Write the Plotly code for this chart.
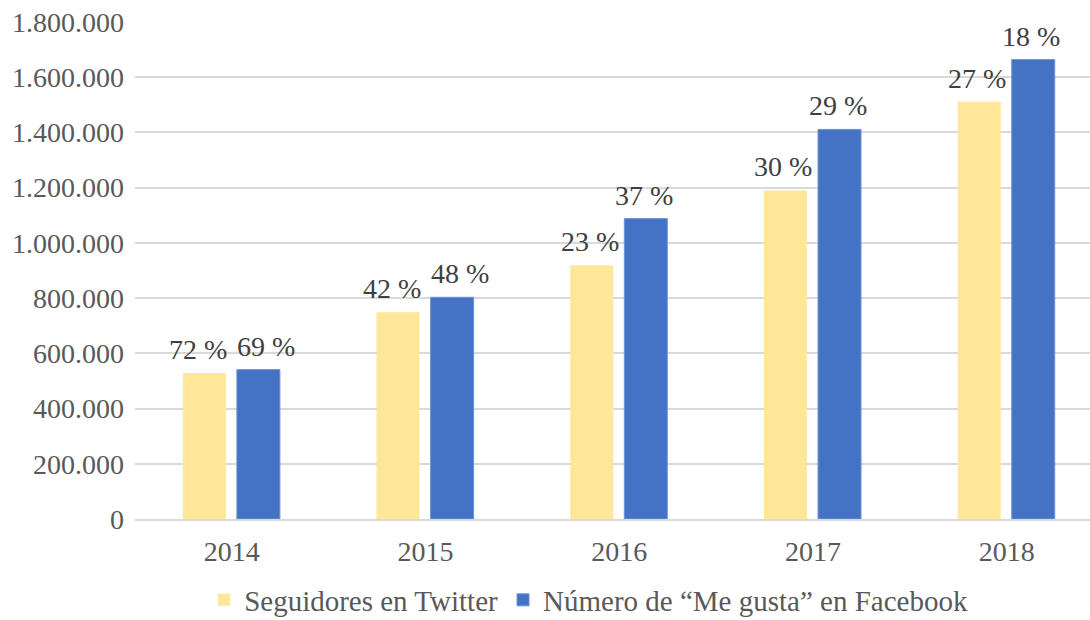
import plotly.graph_objects as go

years = ["2014", "2015", "2016", "2017", "2018"]
twitter = [529000, 749000, 919000, 1190000, 1512000]
facebook = [541000, 803000, 1088000, 1411000, 1664000]
twitter_growth = ["72 %", "42 %", "23 %", "30 %", "27 %"]
facebook_growth = ["69 %", "48 %", "37 %", "29 %", "18 %"]
y_ticks = [0, 200000, 400000, 600000, 800000, 1000000, 1200000, 1400000, 1600000, 1800000]

FONT = "Liberation Serif"
BAR_W = 0.222
OFF_TW = -0.253
OFF_FB = 0.026
LABEL_H = 110000  # approx label height in data units, for overlap avoidance

fig = go.Figure()
fig.add_trace(go.Bar(
    x=years, y=twitter, name="Seguidores en Twitter",
    marker=dict(color="#FFE699", line=dict(width=0)),
    width=BAR_W, offset=OFF_TW,
))
fig.add_trace(go.Bar(
    x=years, y=facebook, name="Número de “Me gusta” en Facebook",
    marker=dict(color="#4472C4", line=dict(color="#6F93D4", width=1)),
    width=BAR_W, offset=OFF_FB,
))

annotations = []
for i, (tw, fb) in enumerate(zip(twitter, facebook)):
    overlap = abs(fb - tw) < LABEL_H
    for val, lab, off, push in ((tw, twitter_growth[i], OFF_TW, -4), (fb, facebook_growth[i], OFF_FB, 10)):
        annotations.append(dict(
            x=i + off + BAR_W / 2, y=val, xref="x", yref="y", text=lab, showarrow=False,
            xanchor="center", yanchor="bottom",
            xshift=-2 + (push if overlap else 0), yshift=6,
            font=dict(family=FONT, size=28, color="#404040"),
        ))

fig.update_layout(
    width=1090, height=620,
    margin=dict(l=135, r=0, t=22, b=101, autoexpand=False),
    paper_bgcolor="white", plot_bgcolor="white",
    separators=",.",
    font=dict(family=FONT, size=28, color="#595959"),
    barmode="group",
    showlegend=True,
    annotations=annotations,
    legend=dict(orientation="h", x=0.475, xanchor="center", y=-0.163, yanchor="middle",
                font=dict(family=FONT, size=29, color="#595959"),
                bgcolor="rgba(0,0,0,0)"),
    xaxis=dict(type="category", range=[-0.5, 4.43], showgrid=False, automargin=False,
               showline=True, linecolor="#D9D9D9", linewidth=1.5,
               ticks="", ticklabelstandoff=7,
               tickfont=dict(family=FONT, size=28, color="#595959")),
    yaxis=dict(range=[0, 1800000], tickvals=y_ticks, tickformat=",d", automargin=False,
               showgrid=True, gridcolor="#D9D9D9", gridwidth=1.5,
               zeroline=False, showline=False, ticks="", ticklabelstandoff=10,
               tickfont=dict(family=FONT, size=28, color="#595959")),
)

fig.write_html("out.html", config={"displayModeBar": False},
               post_script="document.body.style.margin='0';document.body.style.overflow='hidden';")
